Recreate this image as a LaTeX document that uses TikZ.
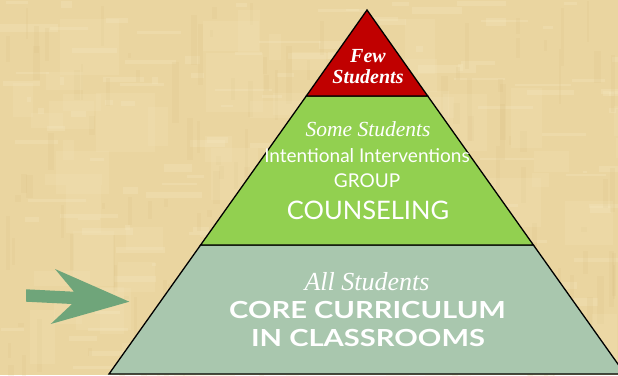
\documentclass[tikz,border=0pt]{standalone}
\usepackage{fontspec}
\setmainfont{Liberation Serif}
\newfontfamily\gill{Lato}
\newfontfamily\gillwide[FakeStretch=1.24]{Lato}
\definecolor{parch}{RGB}{234,213,160}
\definecolor{parchlight}{RGB}{246,232,192}
\definecolor{parchdark}{RGB}{214,188,128}
\definecolor{topred}{RGB}{192,0,0}
\definecolor{midgreen}{RGB}{146,208,80}
\definecolor{lowgreen}{RGB}{169,199,174}
\definecolor{arrowgreen}{RGB}{111,165,122}
\tikzset{
  tier/.style={draw=black, line width=1.3pt, line join=miter},
  wtext/.style={text=white, inner sep=0pt, anchor=base},
}
\begin{document}
\begin{tikzpicture}[x=1pt,y=-1pt]
\useasboundingbox (0,0) rectangle (618,375);
\clip (0,0) rectangle (618,375);
\fill[parch] (0,0) rectangle (618,375);
\pgfmathsetseed{11}
\foreach \i in {1,...,160}{
  \pgfmathsetmacro{\xa}{rnd*618}
  \pgfmathsetmacro{\ya}{rnd*375}
  \pgfmathsetmacro{\ww}{3+rnd*60}
  \pgfmathsetmacro{\hh}{2+rnd*6}
  \fill[parchlight, opacity=0.3] (\xa,\ya) rectangle ++(\ww,\hh);
}
\foreach \i in {1,...,160}{
  \pgfmathsetmacro{\xa}{rnd*618}
  \pgfmathsetmacro{\ya}{rnd*375}
  \pgfmathsetmacro{\ww}{2+rnd*5}
  \pgfmathsetmacro{\hh}{3+rnd*60}
  \fill[parchdark, opacity=0.15] (\xa,\ya) rectangle ++(\ww,\hh);
}
\foreach \i in {1,...,60}{
  \pgfmathsetmacro{\xa}{rnd*618}
  \pgfmathsetmacro{\ya}{rnd*375}
  \pgfmathsetmacro{\ww}{10+rnd*50}
  \pgfmathsetmacro{\hh}{10+rnd*50}
  \fill[parchlight, opacity=0.18] (\xa,\ya) rectangle ++(\ww,\hh);
}
\coordinate (apex) at (367,10);
\coordinate (l1) at (306.3,96);
\coordinate (r1) at (427.7,96);
\coordinate (l2) at (200.6,245);
\coordinate (r2) at (533.4,245);
\coordinate (l3) at (109,374);
\coordinate (r3) at (625,374);
\filldraw[tier, fill=lowgreen] (l2) -- (r2) -- (r3) -- (l3) -- cycle;
\filldraw[tier, fill=midgreen] (l1) -- (r1) -- (r2) -- (l2) -- cycle;
\filldraw[tier, fill=topred] (apex) -- (r1) -- (l1) -- cycle;
% texts
\node[wtext] (few) at (368,62.5) {\fontsize{20}{22}\selectfont\bfseries\itshape Few};
\node[wtext] (fews) at (368,83.5) {\fontsize{20}{22}\selectfont\bfseries\itshape Students};
\node[wtext] (some) at (368,136.5) {\fontsize{21.5}{24}\selectfont\itshape Some Students};
\node[wtext] (inter) at (367,162.5) {\gill\fontsize{19}{21}\selectfont Intentional Interventions};
\node[wtext] (group) at (367,187) {\gill\fontsize{19}{21}\selectfont GROUP};
\node[wtext] (couns) at (368,219.3) {\gill\fontsize{25.5}{28}\selectfont COUNSELING};
\node[wtext] (all) at (367,290) {\fontsize{26}{28}\selectfont\itshape All Students};
\node[wtext] (core) at (367.5,318.3) {\gillwide\fontsize{23.5}{26}\selectfont\bfseries CORE CURRICULUM};
\node[wtext] (class) at (368,346.7) {\gillwide\fontsize{23.5}{26}\selectfont\bfseries IN CLASSROOMS};
% arrow
\fill[arrowgreen] (26,289.3) -- (74,291.7) -- (55,269) -- (129.3,301.7) -- (50.7,324) -- (72,304) -- (26,301.7) -- cycle;
\end{tikzpicture}
\end{document}
